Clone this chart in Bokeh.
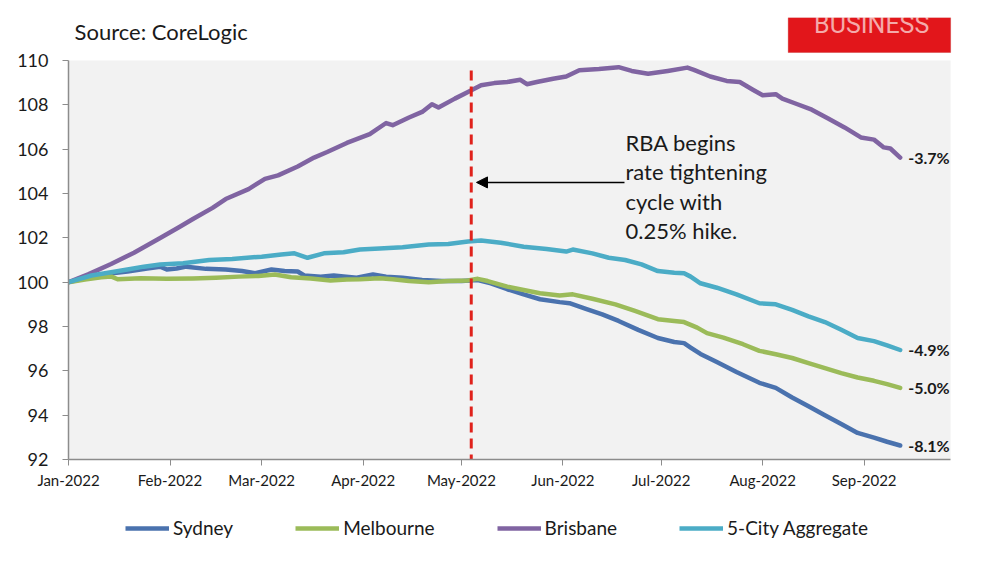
import numpy as np
from bokeh.plotting import figure
from bokeh.layouts import column
from bokeh.models import (Range1d, FixedTicker, DatetimeTickFormatter, Legend, LegendItem,
                          Label, BoxAnnotation, Arrow, NormalHead, ColumnDataSource)
from bokeh.core.properties import value
from bokeh.embed import file_html
from bokeh.resources import INLINE

# ---------------- data (days since 1 Jan 2022, index value) ----------------
syd_day = [0, 6, 12, 18, 24, 28, 30, 33, 36, 42, 48, 53, 57, 62, 66, 70, 72, 77, 81, 84, 88, 93, 97,
           102, 108, 114, 120, 125, 129, 134, 139, 144, 150, 153, 158, 163, 168, 174, 180, 185, 188,
           190, 193, 198, 204, 211, 216, 221, 226, 231, 236, 241, 246, 250, 254]
syd_val = [100.0, 100.2, 100.38, 100.48, 100.62, 100.7, 100.57, 100.62, 100.7, 100.6, 100.57, 100.5,
           100.4, 100.57, 100.5, 100.48, 100.3, 100.25, 100.3, 100.26, 100.2, 100.35, 100.25, 100.2,
           100.1, 100.05, 100.05, 100.1, 99.95, 99.68, 99.45, 99.23, 99.1, 99.05, 98.8, 98.55, 98.25,
           97.85, 97.48, 97.3, 97.25, 97.05, 96.76, 96.4, 95.95, 95.46, 95.23, 94.8, 94.4, 94.0, 93.6,
           93.2, 92.99, 92.8, 92.63]

mel_day = [0, 5, 10, 13, 15, 22, 30, 38, 45, 52, 58, 63, 68, 74, 80, 85, 89, 95, 99, 104, 110, 116,
           122, 125, 128, 134, 139, 144, 150, 154, 160, 167, 173, 180, 185, 188, 192, 195, 200, 206,
           211, 216, 221, 226, 231, 236, 241, 246, 250, 254]
mel_val = [100.0, 100.12, 100.22, 100.26, 100.13, 100.18, 100.15, 100.17, 100.2, 100.25, 100.28,
           100.35, 100.22, 100.17, 100.08, 100.12, 100.13, 100.18, 100.13, 100.05, 100.0, 100.05,
           100.08, 100.15, 100.05, 99.8, 99.65, 99.5, 99.4, 99.45, 99.25, 99.0, 98.7, 98.33, 98.25,
           98.2, 97.95, 97.7, 97.5, 97.2, 96.9, 96.75, 96.58, 96.35, 96.12, 95.9, 95.7, 95.55, 95.4,
           95.23]

bne_day = [0, 6, 13, 20, 28, 34, 38, 44, 48, 55, 60, 64, 70, 75, 79, 85, 92, 97, 99, 104, 108, 111,
           113, 118, 122, 126, 130, 134, 138, 140, 143, 148, 152, 156, 162, 168, 172, 177, 183, 189,
           191, 196, 201, 205, 209, 212, 216, 218, 222, 227, 232, 237, 242, 246, 249, 251, 254]
bne_val = [100.0, 100.35, 100.82, 101.33, 101.99, 102.5, 102.85, 103.35, 103.75, 104.2, 104.66,
           104.82, 105.22, 105.62, 105.87, 106.28, 106.68, 107.18, 107.08, 107.43, 107.68, 108.03,
           107.88, 108.28, 108.58, 108.88, 108.98, 109.03, 109.13, 108.93, 109.03, 109.18, 109.28,
           109.56, 109.62, 109.7, 109.53, 109.4, 109.53, 109.68, 109.58, 109.28, 109.08, 109.03,
           108.68, 108.43, 108.48, 108.28, 108.06, 107.78, 107.38, 106.98, 106.53, 106.43, 106.08,
           106.03, 105.62]

agg_day = [0, 7, 13, 18, 23, 28, 35, 43, 50, 59, 65, 69, 73, 78, 84, 89, 95, 102, 110, 116, 122, 126,
           132, 139, 146, 152, 154, 160, 165, 170, 175, 180, 185, 188, 190, 193, 198, 204, 211, 216,
           221, 226, 231, 236, 241, 246, 250, 254]
agg_val = [100.0, 100.3, 100.45, 100.57, 100.7, 100.8, 100.85, 101.0, 101.05, 101.15, 101.25, 101.3,
           101.1, 101.3, 101.35, 101.47, 101.52, 101.58, 101.7, 101.72, 101.83, 101.88, 101.78, 101.6,
           101.5, 101.38, 101.47, 101.3, 101.1, 101.0, 100.8, 100.5, 100.42, 100.4, 100.25, 99.95,
           99.75, 99.45, 99.05, 99.0, 98.75, 98.46, 98.2, 97.85, 97.48, 97.34, 97.15, 96.94]

series_names = ["Sydney", "Melbourne", "Brisbane", "5-City Aggregate"]
series_colors = ["#4a72ae", "#9bbb59", "#8064a2", "#4bacc6"]
end_labels = ["-8.1%", "-5.0%", "-3.7%", "-4.9%"]

month_ticks = ["2022-01-01", "2022-02-01", "2022-03-01", "2022-04-01", "2022-05-01",
               "2022-06-01", "2022-07-01", "2022-08-01", "2022-09-01"]
y_ticks = [92, 94, 96, 98, 100, 102, 104, 106, 108, 110]
rba_hike_day = 123  # first RBA hike (early May 2022)

# ---------------- layout constants ----------------
Y_MIN, Y_MAX = 92, 110
AXIS_END_DAY = 269.4          # right edge of the grey plot area
VIEW_END_DAY = 277.0          # extra room for the end labels
Y_TOP = Y_MAX + 60 / 22.166   # extra room above the plot area for title / badge

base = np.datetime64("2022-01-01T00:00:00", "ms")
DAY_MS = 86400000.0
def to_ms(days):
    return float(base.astype("int64")) + np.asarray(days, dtype=float) * DAY_MS

FONT = "Lato"

p = figure(frame_width=907, frame_height=459, output_backend="svg", toolbar_location=None,
           x_range=Range1d(to_ms(0), to_ms(VIEW_END_DAY)), y_range=Range1d(Y_MIN, Y_TOP),
           min_border_left=68, min_border_right=15, min_border_top=0, min_border_bottom=40)
p.background_fill_color = "white"
p.border_fill_color = "white"
p.outline_line_color = None
p.xgrid.visible = False
p.ygrid.visible = False

# grey plot area
p.add_layout(BoxAnnotation(left=to_ms(0), right=to_ms(AXIS_END_DAY), bottom=Y_MIN, top=Y_MAX,
                           fill_color="#f2f2f2", fill_alpha=1.0, line_color=None, level="underlay"))

# axes
p.xaxis.ticker = FixedTicker(ticks=list(np.array(month_ticks, dtype="datetime64[ms]").astype("int64").astype(float)))
fmt = "%b-%Y"
p.xaxis.formatter = DatetimeTickFormatter(days=fmt, months=fmt, years=fmt, hours=fmt,
                                          minutes=fmt, seconds=fmt, milliseconds=fmt,
                                          minsec=fmt, hourmin=fmt)
p.xaxis.bounds = (to_ms(0), to_ms(AXIS_END_DAY))
p.yaxis.ticker = FixedTicker(ticks=y_ticks)
p.yaxis.bounds = (Y_MIN, Y_MAX)
for ax in (p.xaxis[0], p.yaxis[0]):
    ax.axis_line_color = "#8c8c8c"
    ax.axis_line_width = 1.5
    ax.major_tick_line_color = "#8c8c8c"
    ax.major_tick_in = 0
    ax.major_tick_out = 6
    ax.minor_tick_line_color = None
    ax.major_label_text_font = FONT
    ax.major_label_text_color = "#1a1a1a"
p.yaxis.major_label_text_font_size = "18px"
p.yaxis.major_label_standoff = 14
p.xaxis.major_label_text_font_size = "15px"
p.xaxis.major_label_standoff = 5

# series
days_list = [syd_day, mel_day, bne_day, agg_day]
vals_list = [syd_val, mel_val, bne_val, agg_val]
for d, v, c in zip(days_list, vals_list, series_colors):
    p.line(to_ms(d), v, line_color=c, line_width=4.5, line_join="round", line_cap="round")

# end-of-series labels
end_src = ColumnDataSource(dict(
    x=[to_ms(d[-1]) for d in days_list],
    y=[v[-1] for v in vals_list],
    t=end_labels))
p.text(x="x", y="y", text="t", source=end_src, x_offset=8, text_align="left",
       text_baseline="middle", text_font=value(FONT), text_font_style="bold",
       text_font_size="16px", text_color="#1a1a1a")

# RBA dashed line
p.segment(x0=[to_ms(rba_hike_day)], y0=[109.55], x1=[to_ms(rba_hike_day)], y1=[Y_MIN],
          line_color="#e0221c", line_width=3, line_dash="10 6")

# arrow + annotation text
p.add_layout(Arrow(end=NormalHead(size=11, fill_color="black", line_color="black"),
                   x_start=to_ms(169.8), y_start=104.5, x_end=to_ms(124.6), y_end=104.5,
                   line_color="black", line_width=1.5))
p.add_layout(Label(x=to_ms(170.1), y=106.9, text="RBA begins\nrate tightening\ncycle with\n0.25% hike.",
                   text_font=FONT, text_font_size="22px", text_color="#1a1a1a",
                   text_baseline="top", text_align="left", text_line_height=1.08))

# title
p.add_layout(Label(x=to_ms(1.85), y=111.31, text="Source: CoreLogic",
                   text_font=FONT, text_font_size="22px", text_color="#1a1a1a",
                   text_baseline="middle", text_align="left"))

# BUSINESS badge (cropped at the top, as in the source image)
p.add_layout(BoxAnnotation(left=to_ms(219.8), right=to_ms(AXIS_END_DAY), bottom=110.36, top=111.94,
                           fill_color="#e2161b", fill_alpha=1.0, line_color="#b80f12", line_width=1))
p.add_layout(Label(x=to_ms(245.3), y=111.62, text="BUSINESS",
                   text_font="Roboto", text_font_size="25px", text_color="#f4aaaa",
                   text_baseline="middle", text_align="center"))
p.add_layout(BoxAnnotation(left=to_ms(218.0), right=to_ms(272.0), bottom=111.94,
                           fill_color="white", fill_alpha=1.0, line_color=None))

# legend strip below the chart (frame is aligned with the main chart's frame)
leg = figure(width=990, height=62, output_backend="svg", toolbar_location=None,
             x_axis_type=None, y_axis_type=None, min_border=0,
             x_range=Range1d(0, 1), y_range=Range1d(0, 1))
leg.outline_line_color = None
leg.xgrid.visible = False
leg.ygrid.visible = False
# off-screen proxy lines, only used to draw the legend swatches
leg_renderers = [leg.line([-5, -4], [-5, -4], line_color=c, line_width=4.5) for c in series_colors]
legend = Legend(items=[LegendItem(label=n, renderers=[r]) for n, r in zip(series_names, leg_renderers)],
                orientation="horizontal", location=(57, 22), spacing=62, label_standoff=4,
                glyph_width=44, glyph_height=20, padding=0, margin=0,
                border_line_color=None, background_fill_alpha=0,
                label_text_font=FONT, label_text_font_size="19px", label_text_color="#1a1a1a")
leg.add_layout(legend, "center")

open("out.html", "w").write(file_html(column(p, leg, spacing=0), INLINE))
